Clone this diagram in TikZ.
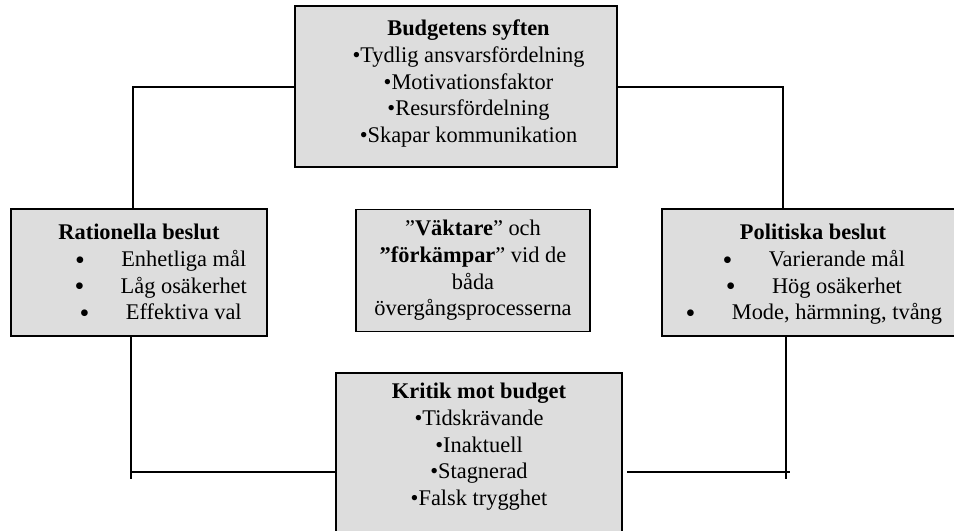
\documentclass[tikz,border=0pt]{standalone}
\usepackage{fontspec}
\setmainfont{Liberation Serif}
\usepackage{tikz}
\usetikzlibrary{positioning}
\definecolor{boxgray}{HTML}{DDDDDD}
\newcommand{\px}{0.536pt}
\newcommand{\storpunkt}{\smash{\raisebox{-1.4pt}{\fontsize{15}{0}\selectfont\textbullet}}}
\newcommand{\punktrad}[2]{\hspace*{#1}\llap{\storpunkt\hspace{19.5pt}}#2}
\tikzset{
box/.style={
  draw, fill=boxgray, line width=0.8pt, inner sep=0pt
},
boxtext/.style={
  anchor=north, inner sep=0pt, align=center,
  font=\fontsize{12}{14.3}\selectfont
},
conn/.style={line width=0.8pt}
}
\begin{document}
\begin{tikzpicture}[x=\px, y=-\px]
        \useasboundingbox (0,0) rectangle (954,531);
        \node[box, minimum width=322*\px, minimum height=161*\px] (syften) at (456,86.5) {};
        \node[box, minimum width=256*\px, minimum height=127*\px] (rationella) at (139,272.5) {};
        \node[box, minimum width=302*\px, minimum height=127*\px] (politiska) at (813,272.5) {};
        \node[box, minimum width=286*\px, minimum height=172*\px] (kritik) at (479,459) {};
        \node[box, minimum width=234*\px, minimum height=122*\px, align=center,
              font=\fontsize{12}{14.3}\selectfont] (vaktare) at (473,270.5)
              {”\textbf{Väktare}” och\\ \textbf{”förkämpar}” vid de\\ båda\\ övergångsprocesserna};
        \node[boxtext] (syftentext) at (468.5,19.8) {\textbf{Budgetens syften}\\
              \textbullet Tydlig ansvarsfördelning\\ \textbullet Motivationsfaktor\\
              \textbullet Resursfördelning\\ \textbullet Skapar kommunikation};
        \node[boxtext] (rationellatext) at (139,223.8) {\textbf{Rationella beslut}\\
              \punktrad{48pt}{Enhetliga mål}\\ \punktrad{48pt}{Låg osäkerhet}\\
              \punktrad{48pt}{Effektiva val}};
        \node[boxtext] (politiskatext) at (813,223.8) {\textbf{Politiska beslut}\\
              \punktrad{25.7pt}{Varierande mål}\\ \punktrad{25.7pt}{Hög osäkerhet}\\
              \punktrad{25.7pt}{Mode, härmning, tvång}};
        \node[boxtext] (kritiktext) at (479,382.8) {\textbf{Kritik mot budget}\\
              \textbullet Tidskrävande\\ \textbullet Inaktuell\\
              \textbullet Stagnerad\\ \textbullet Falsk trygghet};
        \coordinate (lefttop) at (133,87);
        \coordinate (righttop) at (783,87);
        \coordinate (leftcorner) at (131,472);
        \coordinate (leftend) at (131,479);
        \coordinate (rightstart) at (627,472);
        \coordinate (rightcorner) at (786,472);
        \coordinate (rightover) at (790,472);
        \coordinate (rightend) at (786,479);
        \draw[conn] (syften.west |- lefttop) -- (lefttop) -- (lefttop |- rationella.north);
        \draw[conn] (syften.east |- righttop) -- (righttop) -- (righttop |- politiska.north);
        \draw[conn] (leftcorner |- rationella.south) -- (leftend);
        \draw[conn] (leftcorner) -- (leftcorner -| kritik.west);
        \draw[conn] (rightcorner |- politiska.south) -- (rightend);
        \draw[conn] (rightstart) -- (rightover);
\end{tikzpicture}
\end{document}
